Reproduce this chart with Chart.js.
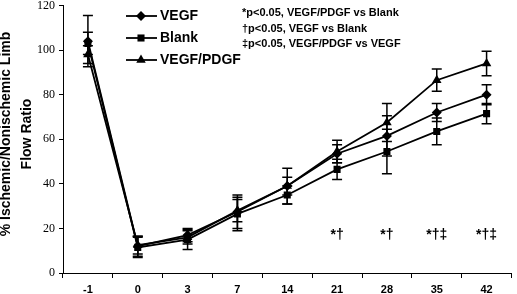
<!DOCTYPE html>
<html>
<head>
<meta charset="utf-8">
<script src="https://cdn.jsdelivr.net/npm/chart.js@4/dist/chart.umd.min.js"></script>
<style>
    html, body { margin: 0; padding: 0; background: #fff; }
    #wrap { width: 517px; height: 294px; position: relative; }
</style>
</head>
<body>
<div id="wrap"><canvas id="flow-chart"></canvas></div>
<script>
var days = ['-1', '0', '3', '7', '14', '21', '28', '35', '42'];

var vegf = [104, 12, 17, 27.5, 39, 53.5, 61.5, 72, 80];
var vegfErr = [11.5, 4.5, 3, 7.5, 4, 4, 9, 4, 4.5];

var blank = [103, 11.5, 15, 26.5, 35, 46.5, 54.5, 63.5, 71.5];
var blankErr = [5, 4.5, 4.5, 7.5, 4, 4.5, 10, 6, 4.5];

var pdgf = [98, 12.5, 16, 28, 39, 54.5, 67.5, 86.5, 94];
var pdgfErr = [4, 4, 3, 5, 8, 5, 8.5, 5, 5.5];

var sigMarks = ['', '', '', '', '', '*\u2020', '*\u2020', '*\u2020\u2021', '*\u2020\u2021'];

var yTicks = [0, 20, 40, 60, 80, 100, 120];

var notes = [
    '*p<0.05, VEGF/PDGF vs Blank',
    '\u2020p<0.05, VEGF vs Blank',
    '\u2021p<0.05, VEGF/PDGF vs VEGF'
];

var errors = [vegfErr, blankErr, pdgfErr];

function drawMarker(ctx, style, x, y, r) {
    ctx.beginPath();
    if (style === 'rectRot') {
        ctx.moveTo(x - r, y);
        ctx.lineTo(x, y - r);
        ctx.lineTo(x + r, y);
        ctx.lineTo(x, y + r);
    } else if (style === 'rect') {
        var s = r * Math.SQRT1_2;
        ctx.rect(x - s, y - s, 2 * s, 2 * s);
    } else {
        ctx.moveTo(x, y - r);
        ctx.lineTo(x + r * 0.866, y + r * 0.5);
        ctx.lineTo(x - r * 0.866, y + r * 0.5);
    }
    ctx.closePath();
    ctx.fill();
}

var extras = {
    id: 'extras',
    beforeDatasetsDraw: function (chart) {
        var ctx = chart.ctx;
        var xs = chart.scales.x;
        var ys = chart.scales.y;
        ctx.save();
        ctx.strokeStyle = '#000';
        ctx.lineWidth = 1.5;
        chart.data.datasets.forEach(function (ds, di) {
            ds.data.forEach(function (v, i) {
                var e = errors[di][i];
                var x = xs.getPixelForValue(i);
                var top = ys.getPixelForValue(v + e);
                var bot = ys.getPixelForValue(v - e);
                ctx.beginPath();
                ctx.moveTo(x, top); ctx.lineTo(x, bot);
                ctx.moveTo(x - 5, top); ctx.lineTo(x + 5, top);
                ctx.moveTo(x - 5, bot); ctx.lineTo(x + 5, bot);
                ctx.stroke();
            });
        });
        ctx.restore();
    },
    afterDraw: function (chart) {
        var ctx = chart.ctx;
        var xs = chart.scales.x;
        ctx.save();
        ctx.fillStyle = '#000';

        // y axis title
        ctx.font = 'bold 14px "Liberation Sans", Arial, sans-serif';
        ctx.textAlign = 'center';
        ctx.textBaseline = 'middle';
        ctx.save();
        ctx.translate(6, 134);
        ctx.rotate(-Math.PI / 2);
        ctx.fillText('% Ischemic/Nonischemic Limb', 0, 0);
        ctx.fillText('Flow Ratio', 0, 21);
        ctx.restore();

        // legend
        var styles = ['rectRot', 'rect', 'triangle'];
        var radii = [5, 5, 5.5];
        var rows = [16, 38, 60];
        ctx.font = 'bold 14px "Liberation Sans", Arial, sans-serif';
        ctx.textAlign = 'left';
        chart.data.datasets.forEach(function (ds, di) {
            var y = rows[di];
            ctx.lineWidth = 1.8;
            ctx.strokeStyle = '#000';
            ctx.beginPath();
            ctx.moveTo(126, y); ctx.lineTo(157, y);
            ctx.stroke();
            drawMarker(ctx, styles[di], 141, y, radii[di]);
            ctx.fillText(ds.label, 160, y);
        });

        // p-value notes
        ctx.font = 'bold 11px "Liberation Sans", Arial, sans-serif';
        var noteRows = [12.5, 28.5, 44];
        notes.forEach(function (t, i) {
            ctx.fillText(t, 242, noteRows[i]);
        });

        // significance marks
        ctx.font = 'bold 14px "Liberation Sans", Arial, sans-serif';
        ctx.textAlign = 'center';
        sigMarks.forEach(function (m, i) {
            if (m) ctx.fillText(m, xs.getPixelForValue(i), 235);
        });
        ctx.restore();
    }
};

function series(label, data, style, r) {
    return {
        label: label,
        data: data,
        borderColor: '#000',
        backgroundColor: '#000',
        borderWidth: 1.8,
        pointStyle: style,
        pointRadius: r,
        pointBorderWidth: 0,
        tension: 0
    };
}

new Chart(document.getElementById('flow-chart'), {
    type: 'line',
    data: {
        labels: days,
        datasets: [
            series('VEGF', vegf, 'rectRot', 5),
            series('Blank', blank, 'rect', 5),
            series('VEGF/PDGF', pdgf, 'triangle', 5.5)
        ]
    },
    options: {
        responsive: true,
        maintainAspectRatio: false,
        animation: false,
        layout: { padding: { top: 5, right: 1, left: 0, bottom: 0 } },
        plugins: {
            legend: { display: false },
            tooltip: { enabled: false }
        },
        scales: {
            x: {
                type: 'category',
                offset: true,
                grid: {
                    offset: true,
                    drawOnChartArea: false,
                    drawTicks: true,
                    tickLength: 5,
                    color: '#000',
                    lineWidth: 1
                },
                border: { color: '#000', width: 1 },
                ticks: {
                    color: '#000',
                    padding: 5,
                    font: { family: '"Liberation Sans", Arial, sans-serif', size: 11, weight: 'bold' }
                },
                afterFit: function (s) { s.height = 21; }
            },
            y: {
                min: 0,
                max: 120,
                afterBuildTicks: function (s) {
                    s.ticks = yTicks.map(function (v) { return { value: v }; });
                },
                grid: {
                    drawOnChartArea: false,
                    drawTicks: true,
                    tickLength: 4,
                    color: '#000',
                    lineWidth: 1
                },
                border: { color: '#000', width: 1 },
                ticks: {
                    color: '#000',
                    padding: 4,
                    font: { family: '"Liberation Serif", "Times New Roman", serif', size: 12 }
                },
                afterFit: function (s) {
                    s.width = 63;
                    s.paddingTop = 0;
                    s.paddingBottom = 0;
                }
            }
        }
    },
    plugins: [extras]
});
</script>
</body>
</html>
